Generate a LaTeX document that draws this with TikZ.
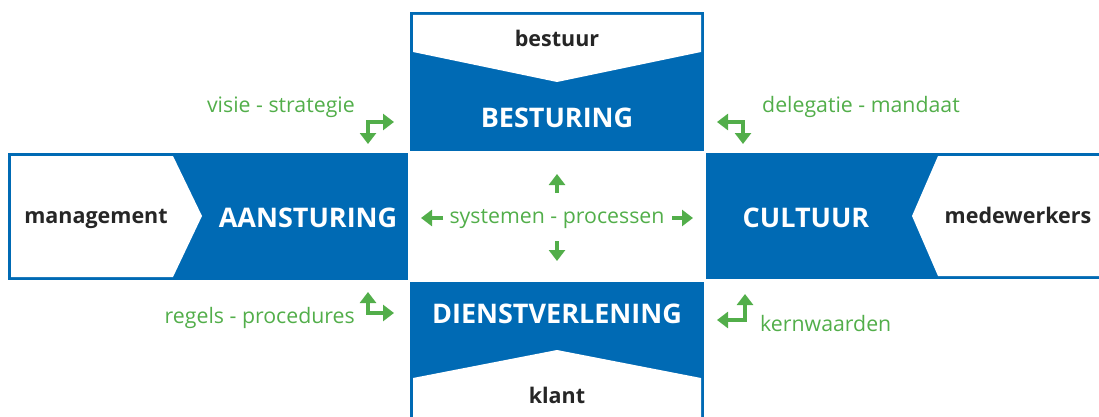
\documentclass[tikz,border=0pt]{standalone}
\usepackage{fontspec}
\setmainfont{Open Sans}
\usepackage{tikz}
\usetikzlibrary{arrows.meta, positioning}

\definecolor{bsblue}{RGB}{0,106,180}
\definecolor{bsgreen}{RGB}{82,174,74}

\begin{document}
\begin{tikzpicture}[x=1pt, y=-1pt, >={Triangle[length=11pt,width=16pt]},
    kop/.style={text=white, font=\bfseries\fontsize{27}{32}\selectfont, anchor=base, inner sep=0pt},
    partij/.style={text=black!85, font=\bfseries\fontsize{21.5}{26}\selectfont, anchor=base, inner sep=0pt},
    relatie/.style={text=bsgreen, font=\fontsize{21.3}{26}\selectfont, anchor=base, inner sep=0pt},
    pijl/.style={draw=bsgreen, line width=3.5pt, <->}]
    \useasboundingbox (0,0) rectangle (1099,417);

    % top box
    \fill[bsblue] (410,12) rectangle (704,151);
    \fill[white] (413,15) -- (701,15) -- (701,52) -- (557,82) -- (413,52) -- cycle;
    % left box
    \fill[bsblue] (8,153) rectangle (408,280);
    \fill[white] (11,156) -- (173,156) -- (202,216) -- (173,277) -- (11,277) -- cycle;
    % right box
    \fill[bsblue] (706,153) rectangle (1099,279);
    \fill[white] (938,156) -- (1099,156) -- (1099,276) -- (938,276) -- (912,216) -- cycle;
    % bottom box
    \fill[bsblue] (410,282) rectangle (704,417);
    \fill[white] (413,378) -- (557,350) -- (701,378) -- (701,417) -- (413,417) -- cycle;

    \node[partij] (bestuur) at (557,47) {bestuur};
    \node[kop] (besturing) at (557,128) {BESTURING};
    \node[partij] (management) at (96,223) {management};
    \node[kop] (aansturing) at (308,227) {AANSTURING};
    \node[kop] (cultuur) at (806,227) {CULTUUR};
    \node[partij] (medewerkers) at (1018,223) {medewerkers};
    \node[kop] (dienst) at (557,323) {DIENSTVERLENING};
    \node[partij] (klant) at (557,403) {klant};

    \node[relatie, anchor=base east] (visie) at (355,113) {visie - strategie};
    \node[relatie, anchor=base west] (delegatie) at (762,113) {delegatie - mandaat};
    \node[relatie, anchor=base east] (regels) at (355,323) {regels - procedures};
    \node[relatie, anchor=base west] (kern) at (760,331) {kernwaarden};
    \node[relatie] (systemen) at (557,223) {systemen - processen};

    % elbow arrows at the corners
    \coordinate (vsA) at (368,144);
    \coordinate (vsB) at (394,122);
    \coordinate (dmA) at (717,122);
    \coordinate (dmB) at (743,144);
    \coordinate (rpA) at (368,292);
    \coordinate (rpB) at (394,313);
    \coordinate (kwA) at (745,294);
    \coordinate (kwB) at (717,320);
    \draw[pijl] (vsA) |- (vsB);
    \draw[pijl] (dmA) -| (dmB);
    \draw[pijl] (rpA) |- (rpB);
    \draw[pijl] (kwA) |- (kwB);

    % arrows round the centre
    \coordinate (upT) at (557,193);
    \coordinate (upH) at (557,174);
    \coordinate (dnT) at (557,241);
    \coordinate (dnH) at (557,261);
    \coordinate (ltT) at (443,218);
    \coordinate (ltH) at (421,218);
    \coordinate (rtT) at (672,218);
    \coordinate (rtH) at (693,218);
    \draw[pijl, ->] (upT) -- (upH);
    \draw[pijl, ->] (dnT) -- (dnH);
    \draw[pijl, ->] (ltT) -- (ltH);
    \draw[pijl, ->] (rtT) -- (rtH);
\end{tikzpicture}
\end{document}
